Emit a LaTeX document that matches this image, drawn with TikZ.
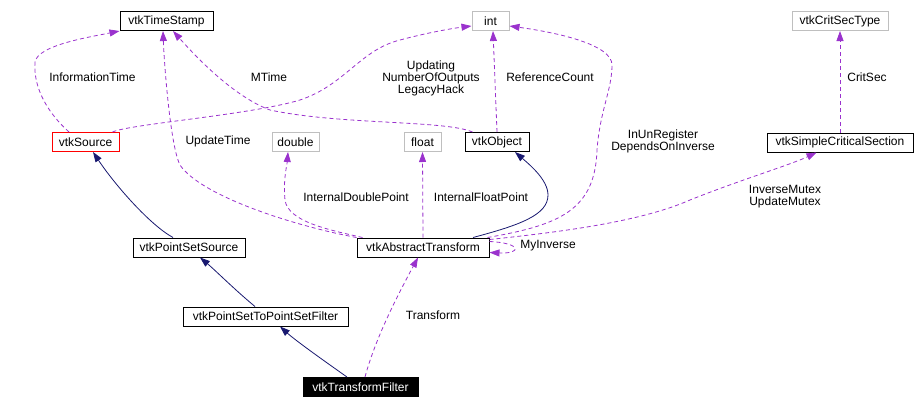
\documentclass[tikz,border=0pt]{standalone}
\usepackage{fontspec}
\setmainfont{Liberation Sans}
\usetikzlibrary{arrows.meta}
\definecolor{edgepurple}{HTML}{9A32CD}
\definecolor{edgenavy}{HTML}{191970}
\definecolor{boxgray}{HTML}{BFBFBF}
\tikzset{
  cls/.style={draw=black, line width=1pt, minimum height=19pt, inner sep=0pt, font=\fontsize{12}{14}\selectfont},
  ext/.style={cls, draw=boxgray},
  usage/.style={draw=edgepurple, dashed, dash pattern=on 4pt off 3pt, line width=0.8pt, -{Triangle[length=10pt,width=7pt,fill=edgepurple]}},
  inherit/.style={draw=edgenavy, line width=0.8pt, -{Triangle[length=10pt,width=7pt,fill=edgenavy]}},
  lbl/.style={font=\fontsize{12}{14}\selectfont, inner sep=0pt, align=center},
}
\begin{document}
\begin{tikzpicture}[x=1pt,y=-1pt]
\useasboundingbox (0,0) rectangle (916,408);
% nodes
\node[cls, minimum width=93pt] (ts) at (166.5,21) {vtkTimeStamp};
\node[ext, minimum width=37pt] (int) at (490.5,21) {int};
\node[ext, minimum width=96pt] (cst) at (840,21) {vtkCritSecType};
\node[cls, draw=red, minimum width=67pt] (src) at (85.5,142) {vtkSource};
\node[ext, minimum width=47pt] (dbl) at (295.5,142) {double};
\node[ext, minimum width=37pt] (flt) at (422.5,142) {float};
\node[cls, minimum width=64pt] (obj) at (497,142) {vtkObject};
\node[cls, minimum width=146pt] (scs) at (840,142.5) {vtkSimpleCriticalSection};
\node[cls, minimum width=112pt] (pss) at (189,247.5) {vtkPointSetSource};
\node[cls, minimum width=132pt] (abs) at (423,247.5) {vtkAbstractTransform};
\node[cls, minimum width=165pt] (pspf) at (265.5,316.5) {vtkPointSetToPointSetFilter};
\node[cls, fill=black, text=white, minimum width=115pt] (tf) at (360.5,387) {vtkTransformFilter};
% usage edges
\draw[usage] ([xshift=-16.5pt]src.north) .. controls (50,115) and (33,90) .. (35,62)
  .. controls (38,45) and (90,37) .. (ts.south west);
\draw[usage] (abs.north west) .. controls (290,225) and (200,195) .. (180,165)
  .. controls (170,145) and (164,60) .. ([xshift=-3.5pt]ts.south);
\draw[usage] ([xshift=8pt]obj.north west) .. controls (445,120) and (340,125) .. (270,110)
  .. controls (230,95) and (190,50) .. ([xshift=6.5pt]ts.south);
\draw[usage] ([xshift=-7pt]src.north east) .. controls (130,124) and (250,115) .. (300,100)
  .. controls (345,85) and (360,50) .. (400,40) .. controls (430,32) and (455,28) .. ([yshift=-5pt]int.west);
\draw[usage] (obj.north) -- ([xshift=2.5pt]int.south);
\draw[usage] ([xshift=-2pt]abs.north east) .. controls (560,225) and (595,210) .. (597,150)
  .. controls (600,110) and (612,90) .. (612,65) .. controls (612,45) and (560,33) .. ([yshift=-5pt]int.east);
\draw[usage] (scs.north) -- (cst.south);
\draw[usage] ([yshift=-2pt]abs.north east) .. controls (560,232) and (640,222) .. (690,200)
  .. controls (740,180) and (790,165) .. ([xshift=50pt]scs.south west);
\draw[usage] ([xshift=6pt]abs.north west) .. controls (330,230) and (288,222) .. (285,200)
  .. controls (283,180) and (287,165) .. ([xshift=-7.5pt]dbl.south);
\draw[usage] (abs.north) -- (flt.south);
\draw[usage] ([yshift=6pt]abs.east) .. controls (522,243) and (522,254) .. ([yshift=-5pt]abs.east);
\draw[usage] ([xshift=4.5pt]tf.north) .. controls (375,340) and (395,300) .. ([xshift=-5pt]abs.south);
% inheritance edges
\draw[inherit] ([xshift=50pt]abs.north) .. controls (520,225) and (548,215) .. (548,195)
  .. controls (548,180) and (530,165) .. ([xshift=18pt]obj.south);
\draw[inherit] ([xshift=-16pt]pss.north) .. controls (150,225) and (115,185) .. ([xshift=7.5pt]src.south);
\draw[inherit] ([xshift=-10.5pt]pspf.north) .. controls (235,290) and (215,270) .. ([xshift=11pt]pss.south);
\draw[inherit] ([xshift=-13.5pt]tf.north) .. controls (320,358) and (295,340) .. ([xshift=14.5pt]pspf.south);
% labels
\node[lbl] (l1) at (92.5,77) {InformationTime};
\node[lbl] (l2) at (269,77) {MTime};
\node[lbl] (l3) at (218,141) {UpdateTime};
\node[lbl, text depth=0pt] (l4) at (431,77) {Updating\\[-2pt]NumberOfOutputs\\[-2pt]LegacyHack};
\node[lbl] (l5) at (550,77) {ReferenceCount};
\node[lbl] (l6) at (867,77) {CritSec};
\node[lbl] (l7) at (663,141) {InUnRegister\\[-2pt]DependsOnInverse};
\node[lbl] (l8) at (785,196.5) {InverseMutex\\[-2pt]UpdateMutex};
\node[lbl] (l9) at (356,197) {InternalDoublePoint};
\node[lbl] (l10) at (481,197) {InternalFloatPoint};
\node[lbl] (l11) at (548,246) {MyInverse};
\node[lbl] (l12) at (433,315) {Transform};
\end{tikzpicture}
\end{document}
